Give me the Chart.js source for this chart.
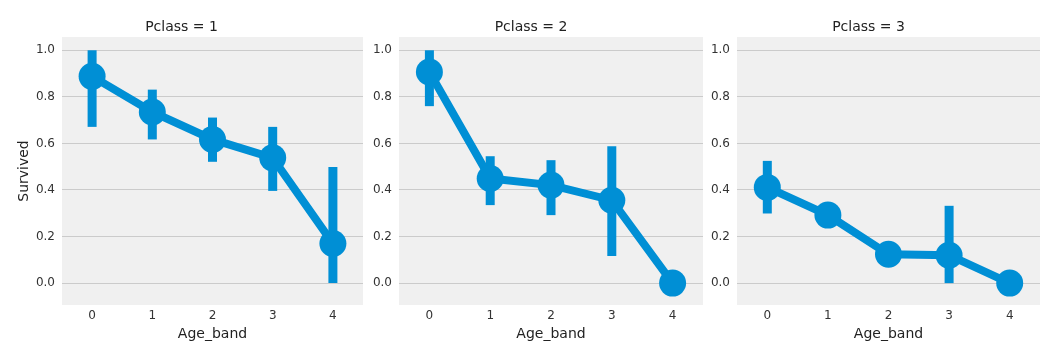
<!DOCTYPE html>
<html>
<head>
<meta charset="utf-8">
<script src="https://cdn.jsdelivr.net/npm/chart.js@4"></script>
<style>
  body { margin: 0; background: #ffffff; overflow: hidden; }
  #wrap { position: relative; width: 1060px; height: 364px; }
  .panel { position: absolute; top: 0; height: 364px; }
</style>
</head>
<body>
<div id="wrap">
  <div class="panel" style="left:0px;width:363px"><canvas id="c1"></canvas></div>
  <div class="panel" style="left:359px;width:344px"><canvas id="c2"></canvas></div>
  <div class="panel" style="left:697px;width:343px"><canvas id="c3"></canvas></div>
</div>
<script>
// categories and tick labels
const ageBands = ['0', '1', '2', '3', '4'];
const yTicks = [0, 0.2, 0.4, 0.6, 0.8, 1.0];
const panelTitles = ['Pclass = 1', 'Pclass = 2', 'Pclass = 3'];

// mean survival per age band
const survived1 = [0.888, 0.735, 0.617, 0.538, 0.170];
const survived2 = [0.907, 0.449, 0.421, 0.356, 0.0];
const survived3 = [0.411, 0.292, 0.124, 0.120, 0.0];

// confidence intervals (low / high)
const ciLow1 = [0.671, 0.617, 0.521, 0.396, 0.0];
const ciHigh1 = [1.0, 0.831, 0.711, 0.671, 0.499];
const ciLow2 = [0.760, 0.335, 0.292, 0.116, 0.0];
const ciHigh2 = [1.0, 0.545, 0.528, 0.588, 0.0];
const ciLow3 = [0.299, 0.260, 0.124, 0.0, 0.0];
const ciHigh3 = [0.525, 0.320, 0.124, 0.332, 0.0];

const BLUE = '#008fd5';
const FONT = 'DejaVu Sans';

// draw vertical CI bars behind the points
const errorBars = {
  id: 'errorBars',
  beforeDatasetsDraw(chart, args, opts) {
    const { ctx, scales: { x, y } } = chart;
    ctx.save();
    ctx.strokeStyle = BLUE;
    ctx.lineWidth = 9;
    ctx.lineCap = 'butt';
    opts.low.forEach((lo, i) => {
      const hi = opts.high[i];
      if (hi - lo <= 0) return;
      const px = x.getPixelForValue(i);
      ctx.beginPath();
      ctx.moveTo(px, y.getPixelForValue(lo));
      ctx.lineTo(px, y.getPixelForValue(hi));
      ctx.stroke();
    });
    ctx.restore();
  }
};

// grey plot background
const plotBg = {
  id: 'plotBg',
  beforeDraw(chart) {
    const { ctx, chartArea: a } = chart;
    ctx.save();
    ctx.fillStyle = '#f0f0f0';
    ctx.fillRect(a.left, a.top, a.right - a.left, a.bottom - a.top);
    ctx.restore();
  }
};

function makePanel(id, title, values, low, high, yAxisWidth, showYTitle) {
  return new Chart(document.getElementById(id), {
    type: 'line',
    data: {
      labels: ageBands,
      datasets: [{
        data: values,
        borderColor: BLUE,
        backgroundColor: BLUE,
        borderWidth: 8,
        borderCapStyle: 'round',
        pointRadius: 13.5,
        pointHoverRadius: 13.5,
        pointBorderWidth: 0,
        pointBackgroundColor: BLUE,
        clip: false
      }]
    },
    options: {
      responsive: true,
      maintainAspectRatio: false,
      animation: false,
      layout: { padding: 0, autoPadding: false },
      plugins: {
        legend: { display: false },
        tooltip: { enabled: false },
        title: {
          display: true,
          text: title,
          color: '#222222',
          font: { family: FONT, size: 14, weight: 'normal' },
          padding: { top: 18.5, bottom: 1.7 }
        },
        errorBars: { low: low, high: high }
      },
      scales: {
        x: {
          type: 'category',
          offset: true,
          grid: { display: false, drawTicks: false },
          border: { display: false },
          ticks: { color: '#333333', font: { family: FONT, size: 12 }, padding: 4 },
          title: {
            display: true,
            text: 'Age_band',
            color: '#222222',
            font: { family: FONT, size: 14 },
            padding: { top: 0, bottom: 21.6 }
          },
          afterFit(scale) { scale.height = 59; }
        },
        y: {
          min: -0.094,
          max: 1.057,
          grid: { color: '#cbcbcb', lineWidth: 1, drawTicks: false },
          border: { display: false },
          ticks: {
            color: '#333333',
            font: { family: FONT, size: 12 },
            padding: 7,
            callback: v => v.toFixed(1)
          },
          afterBuildTicks(scale) { scale.ticks = yTicks.map(v => ({ value: v })); },
          title: {
            display: showYTitle,
            text: 'Survived',
            color: '#222222',
            font: { family: FONT, size: 14 },
            padding: { top: 16, bottom: 0 }
          },
          afterFit(scale) { scale.width = yAxisWidth; }
        }
      }
    },
    plugins: [plotBg, errorBars]
  });
}

makePanel('c1', panelTitles[0], survived1, ciLow1, ciHigh1, 62, true);
makePanel('c2', panelTitles[1], survived2, ciLow2, ciHigh2, 40, false);
makePanel('c3', panelTitles[2], survived3, ciLow3, ciHigh3, 40, false);
</script>
</body>
</html>
